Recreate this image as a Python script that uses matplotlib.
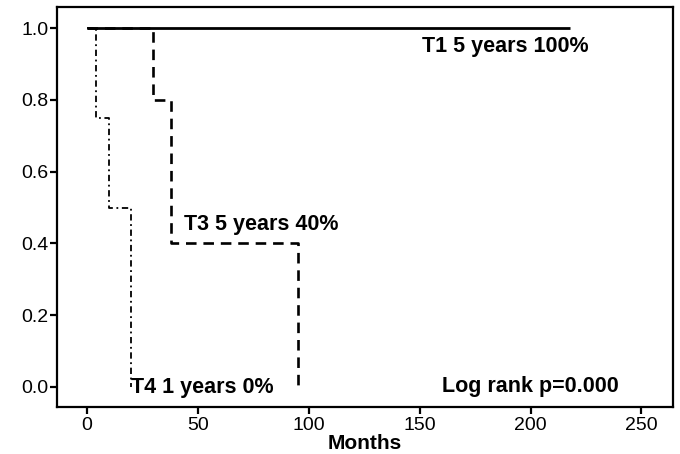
import matplotlib
matplotlib.use("Agg")
import matplotlib.pyplot as plt

# Kaplan-Meier steps (months, survival)
t1_months = [0, 218]
t1_surv = [1.0, 1.0]
t3_months = [0, 30, 38, 95]
t3_surv = [1.0, 0.8, 0.4, 0.0]
t4_months = [0, 4, 10, 20]
t4_surv = [1.0, 0.75, 0.5, 0.0]

x_ticks = [0, 50, 100, 150, 200, 250]
y_ticks = [0.0, 0.2, 0.4, 0.6, 0.8, 1.0]

plt.rcParams["font.family"] = ["Liberation Sans", "DejaVu Sans"]

fig = plt.figure(figsize=(6.8, 4.54), dpi=100)
ax = fig.add_axes([0.084, 0.1035, 0.905, 0.881])

ax.plot(t1_months, t1_surv, color="black", lw=2.0, solid_capstyle="butt")
ax.plot(t3_months, t3_surv, color="black", lw=1.9, drawstyle="steps-post",
        dashes=(4, 2.6))
ax.plot(t4_months, t4_surv, color="black", lw=1.3, drawstyle="steps-post",
        dashes=(3.5, 2, 1, 2))

txt = dict(fontsize=15.5, fontweight="bold", color="black")
ax.text(188.5, 0.95, "T1 5 years 100%", ha="center", va="center", **txt)
ax.text(43.8, 0.452, "T3 5 years 40%", ha="left", va="center", **txt)
ax.text(20, -0.003, "T4 1 years 0%", ha="left", va="center", **txt)
ax.text(160, 0.0, "Log rank p=0.000", ha="left", va="center", **txt)

ax.set_xlim(-13.4, 264)
ax.set_ylim(-0.056, 1.059)
ax.set_xticks(x_ticks)
ax.set_yticks(y_ticks)
ax.set_yticklabels([f"{v:.1f}" for v in y_ticks])
ax.tick_params(labelsize=14, width=1.6, length=5, direction="out", pad=1)
ax.tick_params(axis="x", length=5, pad=2.5)
for s in ax.spines.values():
    s.set_linewidth(1.6)

ax.set_xlabel("Months", fontsize=15, fontweight="bold", labelpad=0)

fig.savefig("out.png", dpi=100)
